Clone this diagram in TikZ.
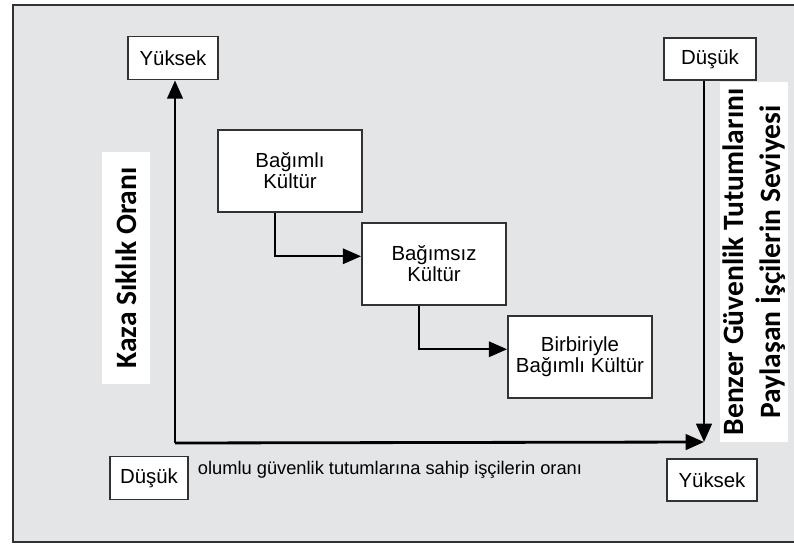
\documentclass[tikz,border=0pt]{standalone}
\usepackage{fontspec}
\setmainfont{Liberation Sans}
\newfontfamily\calfont{Carlito}
\usetikzlibrary{arrows.meta}
\definecolor{zemin}{RGB}{228,229,231}
\definecolor{cerceve}{RGB}{50,50,50}

\begin{document}
\begin{tikzpicture}[x=0.025cm,y=-0.025cm,
    eksen/.style={line width=2pt,-{Triangle[length=13pt,width=11pt]}},
    gecis/.style={line width=1.4pt,-{Triangle[length=13pt,width=11pt]}}]

      \useasboundingbox (0,0) rectangle (794,545);
      \draw[cerceve,line width=1.5pt,fill=zemin] (13,5) rectangle (830,542);

      \begin{scope}[every node/.style={draw=cerceve,line width=1.3pt,fill=white,inner sep=0pt,align=center,
          font=\fontsize{14.5}{15}\selectfont}]
        \node[minimum width=2.25cm,minimum height=1.075cm] (1) at (173,58)  {Yüksek};
        \node[minimum width=2.3cm,minimum height=1.03cm]   (2) at (710,59)  {Düşük};
        \node[minimum width=1.95cm,minimum height=1.075cm] (3) at (149,478) {Düşük};
        \node[minimum width=2.25cm,minimum height=1.05cm]  (4) at (712,480) {Yüksek};
        \node[minimum width=3.6cm,minimum height=2.05cm]   (5) at (290,171) {Bağımlı\\Kültür};
        \node[minimum width=3.6cm,minimum height=2.05cm]   (6) at (434,264) {Bağımsız\\Kültür};
        \node[minimum width=3.6cm,minimum height=2.05cm]   (7) at (580,357) {Birbiriyle\\Bağımlı Kültür};
      \end{scope}

      \begin{scope}[every node/.style={fill=white,inner sep=0pt,rotate=90,align=center,
          font=\calfont\bfseries\fontsize{21}{26}\selectfont}]
        \node[minimum width=5.8cm,minimum height=1.18cm] (8) at (126,268) {Kaza Sıklık Oranı};
        \node[minimum width=9cm,minimum height=1.7cm]    (9) at (754,262) {Benzer Güvenlik Tutumlarını\\Paylaşan İşçilerin Seviyesi};
      \end{scope}

      \node[font=\fontsize{13}{15}\selectfont] (10) at (390,470) {olumlu güvenlik tutumlarına sahip işçilerin oranı};

      \coordinate (o) at (175,443);
      \coordinate (k) at (704,442);

      \draw[eksen] (o) -- (1.south -| o);
      \draw[eksen] (o) -- (k);
      \draw[eksen] (2.south -| k) -- (k);

      \draw[gecis] ([xshift=-11pt]5.south) |- ([yshift=5.5pt]6.west);
      \draw[gecis] ([xshift=-11pt]6.south) |- ([yshift=5.5pt]7.west);

    \end{tikzpicture}
\end{document}
